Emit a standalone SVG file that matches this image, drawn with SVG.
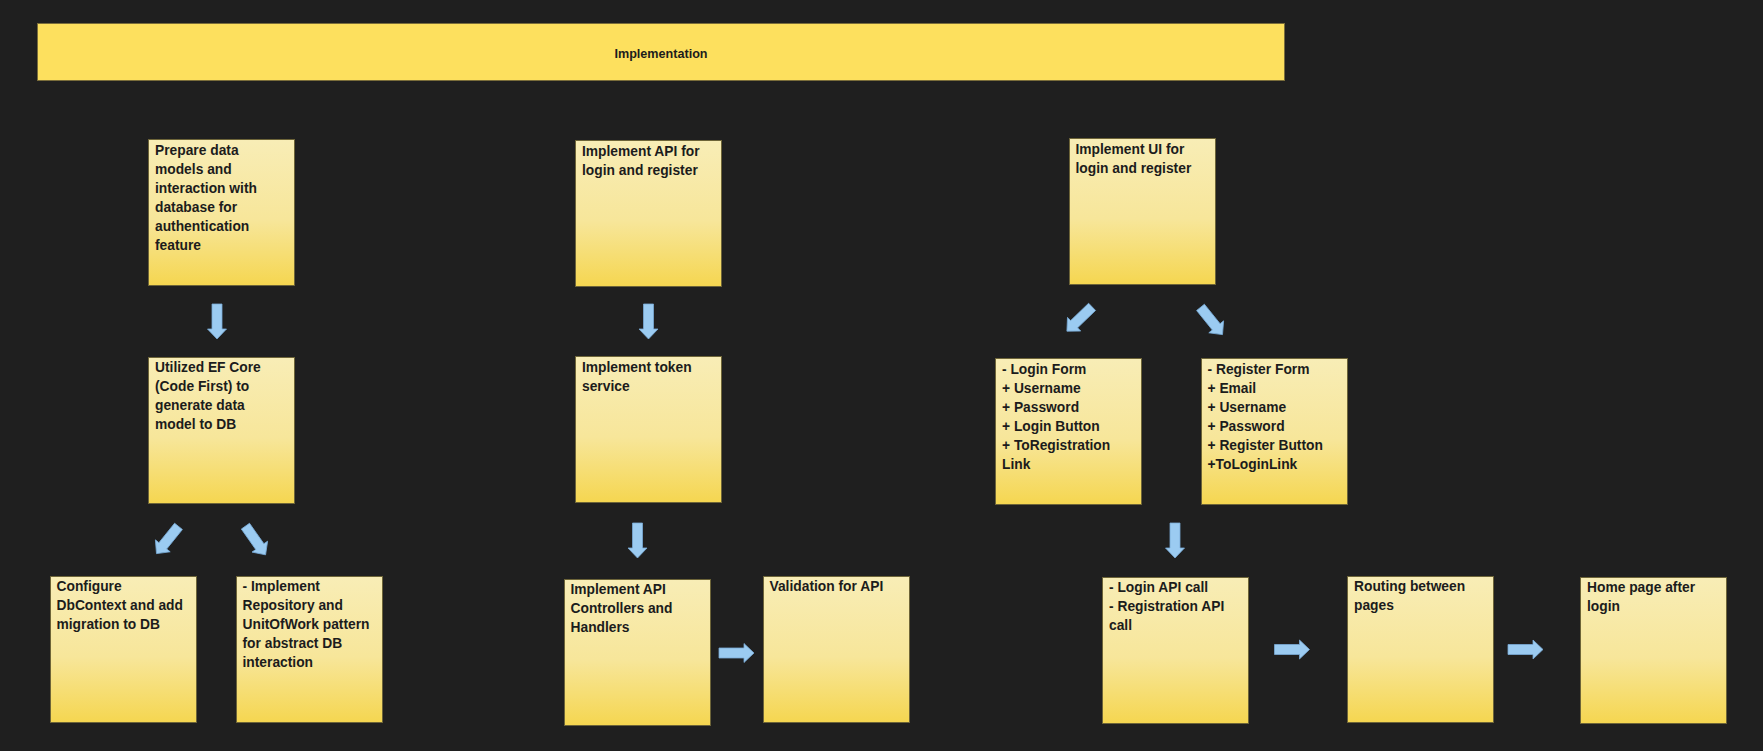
<svg xmlns="http://www.w3.org/2000/svg" width="1763" height="751" viewBox="0 0 1763 751">
<defs>
<linearGradient id="note" x1="0" y1="0" x2="0" y2="1">
<stop offset="0" stop-color="#F8EDB6"/>
<stop offset="0.55" stop-color="#F7E69A"/>
<stop offset="1" stop-color="#F5D650"/>
</linearGradient>
<path id="arr" d="M-5,-17.5 H5 V7.5 H9.5 L0,17.5 L-9.5,7.5 H-5 Z"/>
</defs>
<style>
.note{fill:url(#note);stroke:#6d6438;stroke-width:1}
.t{font-family:"Liberation Sans",Arial,sans-serif;font-weight:bold;font-size:13.8px;fill:#1c1c1c}
.a{fill:#9BCBF1;stroke:#78AAD6;stroke-width:0.8}
</style>
<rect width="1763" height="751" fill="#1F1F1F"/>
<g id="banner">
<rect x="37.5" y="23.5" width="1247" height="57" fill="#FDE05E" stroke="#7a6d3a" stroke-width="1"/>
<text x="661" y="57.5" text-anchor="middle" class="t" style="font-size:12.6px">Implementation</text>
</g>
<g id="prepare">
<rect class="note" x="148.5" y="139.5" width="146" height="146"/>
<text class="t" x="155" y="155"><tspan x="155">Prepare data</tspan><tspan x="155" dy="19">models and</tspan><tspan x="155" dy="19">interaction with</tspan><tspan x="155" dy="19">database for</tspan><tspan x="155" dy="19">authentication</tspan><tspan x="155" dy="19">feature</tspan></text>
</g>
<g id="efcore">
<rect class="note" x="148.5" y="357.5" width="146" height="146"/>
<text class="t" x="155" y="372"><tspan x="155">Utilized EF Core</tspan><tspan x="155" dy="19">(Code First) to</tspan><tspan x="155" dy="19">generate data</tspan><tspan x="155" dy="19">model to DB</tspan></text>
</g>
<g id="dbcontext">
<rect class="note" x="50.5" y="576.5" width="146" height="146"/>
<text class="t" x="56.5" y="591"><tspan x="56.5">Configure</tspan><tspan x="56.5" dy="19">DbContext and add</tspan><tspan x="56.5" dy="19">migration to DB</tspan></text>
</g>
<g id="repository">
<rect class="note" x="236.5" y="576.5" width="146" height="146"/>
<text class="t" x="242.5" y="591"><tspan x="242.5">- Implement</tspan><tspan x="242.5" dy="19">Repository and</tspan><tspan x="242.5" dy="19">UnitOfWork pattern</tspan><tspan x="242.5" dy="19">for abstract DB</tspan><tspan x="242.5" dy="19">interaction</tspan></text>
</g>
<g id="api">
<rect class="note" x="575.5" y="140.5" width="146" height="146"/>
<text class="t" x="582" y="155.5"><tspan x="582">Implement API for</tspan><tspan x="582" dy="19">login and register</tspan></text>
</g>
<g id="token">
<rect class="note" x="575.5" y="356.5" width="146" height="146"/>
<text class="t" x="582" y="372"><tspan x="582">Implement token</tspan><tspan x="582" dy="19">service</tspan></text>
</g>
<g id="controllers">
<rect class="note" x="564.5" y="579.5" width="146" height="146"/>
<text class="t" x="570.5" y="594"><tspan x="570.5">Implement API</tspan><tspan x="570.5" dy="19">Controllers and</tspan><tspan x="570.5" dy="19">Handlers</tspan></text>
</g>
<g id="validation">
<rect class="note" x="763.5" y="576.5" width="146" height="146"/>
<text class="t" x="769.5" y="591">Validation for API</text>
</g>
<g id="ui">
<rect class="note" x="1069.5" y="138.5" width="146" height="146"/>
<text class="t" x="1075.5" y="153.5"><tspan x="1075.5">Implement UI for</tspan><tspan x="1075.5" dy="19">login and register</tspan></text>
</g>
<g id="loginform">
<rect class="note" x="995.5" y="358.5" width="146" height="146"/>
<text class="t" x="1002" y="373.5"><tspan x="1002">- Login Form</tspan><tspan x="1002" dy="19">+ Username</tspan><tspan x="1002" dy="19">+ Password</tspan><tspan x="1002" dy="19">+ Login Button</tspan><tspan x="1002" dy="19">+ ToRegistration</tspan><tspan x="1002" dy="19">Link</tspan></text>
</g>
<g id="registerform">
<rect class="note" x="1201.5" y="358.5" width="146" height="146"/>
<text class="t" x="1207.5" y="373.5"><tspan x="1207.5">- Register Form</tspan><tspan x="1207.5" dy="19">+ Email</tspan><tspan x="1207.5" dy="19">+ Username</tspan><tspan x="1207.5" dy="19">+ Password</tspan><tspan x="1207.5" dy="19">+ Register Button</tspan><tspan x="1207.5" dy="19">+ToLoginLink</tspan></text>
</g>
<g id="apicall">
<rect class="note" x="1102.5" y="577.5" width="146" height="146"/>
<text class="t" x="1109" y="592"><tspan x="1109">- Login API call</tspan><tspan x="1109" dy="19">- Registration API</tspan><tspan x="1109" dy="19">call</tspan></text>
</g>
<g id="routing">
<rect class="note" x="1347.5" y="576.5" width="146" height="146"/>
<text class="t" x="1354" y="591"><tspan x="1354">Routing between</tspan><tspan x="1354" dy="19">pages</tspan></text>
</g>
<g id="home">
<rect class="note" x="1580.5" y="577.5" width="146" height="146"/>
<text class="t" x="1587" y="592"><tspan x="1587">Home page after</tspan><tspan x="1587" dy="19">login</tspan></text>
</g>
<g id="connectors" class="a">
<use href="#arr" transform="translate(217,321.5)"/>
<use href="#arr" transform="translate(167.5,540) rotate(38.9)"/>
<use href="#arr" transform="translate(255.5,540.5) rotate(-35.1)"/>
<use href="#arr" transform="translate(648.5,321.5)"/>
<use href="#arr" transform="translate(637.5,540.5)"/>
<use href="#arr" transform="translate(736.5,653) rotate(-90)"/>
<use href="#arr" transform="translate(1079.5,319) rotate(46)"/>
<use href="#arr" transform="translate(1211.5,321) rotate(-38.9)"/>
<use href="#arr" transform="translate(1175,540.5)"/>
<use href="#arr" transform="translate(1292,649.5) rotate(-90)"/>
<use href="#arr" transform="translate(1525.5,649.5) rotate(-90)"/>
</g>
</svg>
